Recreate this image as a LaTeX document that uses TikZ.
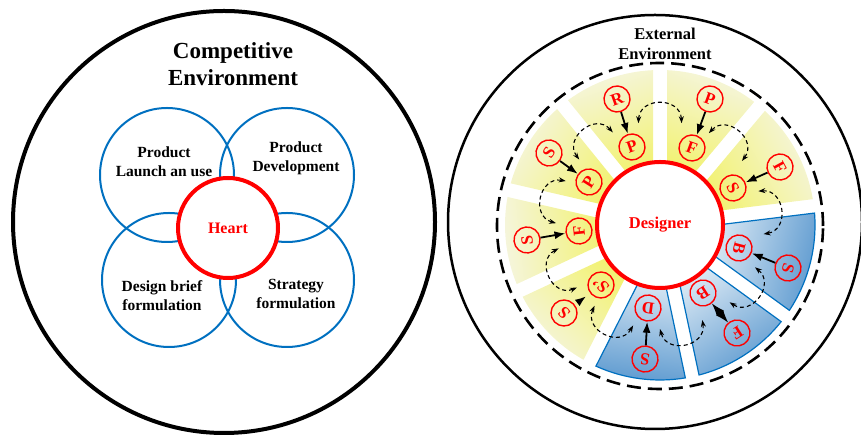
\documentclass[tikz,border=0pt]{standalone}
\usepackage{fontspec}
\setmainfont{Liberation Serif}
\usepackage{xcolor}
\usepackage{tikz}
\usetikzlibrary{arrows.meta}
\definecolor{ring-blue}{RGB}{0,112,192}
\definecolor{yel-in}{RGB}{242,242,118}
\definecolor{yel-out}{RGB}{245,245,222}
\definecolor{blu-in}{RGB}{214,230,243}
\definecolor{blu-out}{RGB}{95,155,208}
\tikzstyle{ring}=[circle,draw=ring-blue,line width=2pt,minimum size=134pt,inner sep=0pt]
\tikzstyle{core}=[circle,draw=red,fill=white,line width=4pt,inner sep=0pt,text=red,font=\fontsize{16}{19}\selectfont\bfseries]
\tikzstyle{lbl}=[align=center,font=\fontsize{15.5}{19}\selectfont\bfseries]
\tikzstyle{ltr}=[circle,draw=red,line width=1.4pt,minimum size=26pt,inner sep=0pt,text=red,font=\fontsize{17}{17}\selectfont\bfseries]
\tikzstyle{e}=[line width=1.8pt,-{Latex[length=11pt,width=8pt]}]
\tikzstyle{swing}=[line width=1.1pt,dash pattern=on 4pt off 3pt,{Stealth[length=7pt,width=5pt]}-{Stealth[length=7pt,width=5pt]}]
\tikzset{yel/.style={top color=yel-out,bottom color=yel-in,shading angle=#1},
         blu/.style={top color=blu-out,bottom color=blu-in,shading angle=#1,draw=ring-blue,line width=1.2pt}}
% wedge between two gap angles, gaps 14pt wide
\newcommand{\wedgepath}[2]{({#1+asin(7/60)}:60) -- ({#1+asin(7/155)}:155)
  arc[start angle={#1+asin(7/155)},end angle={#2-asin(7/155)},radius=155]
  -- ({#2-asin(7/60)}:60)
  arc[start angle={#2-asin(7/60)},end angle={#1+asin(7/60)},radius=60] -- cycle}

\begin{document}
\begin{tikzpicture}[x=1pt,y=1pt]
\useasboundingbox (0,0) rectangle (861,435);

% Competitive environment
\draw[line width=4pt] (224,213) circle (211);
\node[lbl,font=\fontsize{23}{27}\selectfont\bfseries] (competitive) at (233,371) {Competitive\\Environment};

\node[ring] (launch ring)      at (167,260) {};
\node[ring] (development ring) at (287,260) {};
\node[ring] (design ring)      at (169,155) {};
\node[ring] (strategy ring)    at (287,155) {};
\node[core,minimum size=100pt] (heart) at (228,207) {Heart};

\node[lbl] (launch)       at (164,273) {Product\\Launch an use};
\node[lbl] (development)  at (296,277) {Product\\Development};
\node[lbl] (design brief) at (162,139) {Design brief\\formulation};
\node[lbl] (strategy)     at (296,141) {Strategy\\formulation};

% External environment
\draw[line width=2.5pt] (655,213) circle (207);
\draw[line width=2.6pt,dash pattern=on 14pt off 7pt] (660,209) circle (163);
\node[lbl,font=\fontsize{16.5}{20}\selectfont\bfseries] (external) at (665,391) {External\\Environment};

\begin{scope}[shift={(660,210)}]
\path[yel=19.5]   \wedgepath{90}{129};
\path[yel=-20]    \wedgepath{50}{90};
\path[yel=-61.5]  \wedgepath{7}{50};
\path[blu=-104.5] \wedgepath{-36}{7};
\path[blu=-147]   \wedgepath{-78}{-36};
\path[blu=-187.5] \wedgepath{-117}{-78};
\path[yel=-226]   \wedgepath{-155}{-117};
\path[yel=96]     \wedgepath{167}{205};
\path[yel=58]     \wedgepath{129}{167};
\foreach \g in {90,50,7,-36,-78,-117,-155,167,129}
  \draw[swing] (\g+12:104) .. controls (\g+9:130) and (\g-9:130) .. (\g-12:104);
\end{scope}

\node[core,minimum size=126pt,font=\fontsize{16.5}{19}\selectfont\bfseries] (designer) at (660,210) {Designer};

% Nodes
\node[ltr,rotate=19.5]  (r1) at (617,336) {R};
\node[ltr,rotate=19.5]  (p1) at (632,288) {P};
\node[ltr,rotate=-20]   (p2) at (710,336) {P};
\node[ltr,rotate=-20]   (f2) at (692,287) {F};
\node[ltr,rotate=-61.5] (f3) at (780,268) {F};
\node[ltr,rotate=-61.5] (s3) at (733,247) {S};
\node[ltr,rotate=-104.5](s4) at (788,167) {S};
\node[ltr,rotate=-104.5](b4) at (739,187) {B};
\node[ltr,rotate=-147]  (f5) at (737,102) {F};
\node[ltr,rotate=-147]  (b5) at (703,142) {B};
\node[ltr,rotate=172.5] (s6) at (645,76)  {S};
\node[ltr,rotate=172.5] (d6) at (648,127) {D};
\node[ltr,rotate=134]   (s7) at (564,122) {S};
\node[ltr,rotate=134]   (q7) at (601,150) {S'};
\node[ltr,rotate=96]    (s8) at (527,195) {S};
\node[ltr,rotate=96]    (f8) at (579,204) {F};
\node[ltr,rotate=58]    (s9) at (549,282) {S};
\node[ltr,rotate=58]    (p9) at (589,253) {P};

% Edges
\draw[e] (r1) edge (p1)
         (p2) edge (f2)
         (f3) edge (s3)
         (s4) edge (b4)
         (s6) edge (d6)
         (s8) edge (f8)
         (s9) edge (p9);
\draw[e,shorten <=8pt,shorten >=5pt] (s7) -- (q7);
\draw[line width=1pt,{Latex[length=13pt,width=9pt]}-{Latex[length=13pt,width=9pt]}] (f5) -- (b5);

\end{tikzpicture}
\end{document}
